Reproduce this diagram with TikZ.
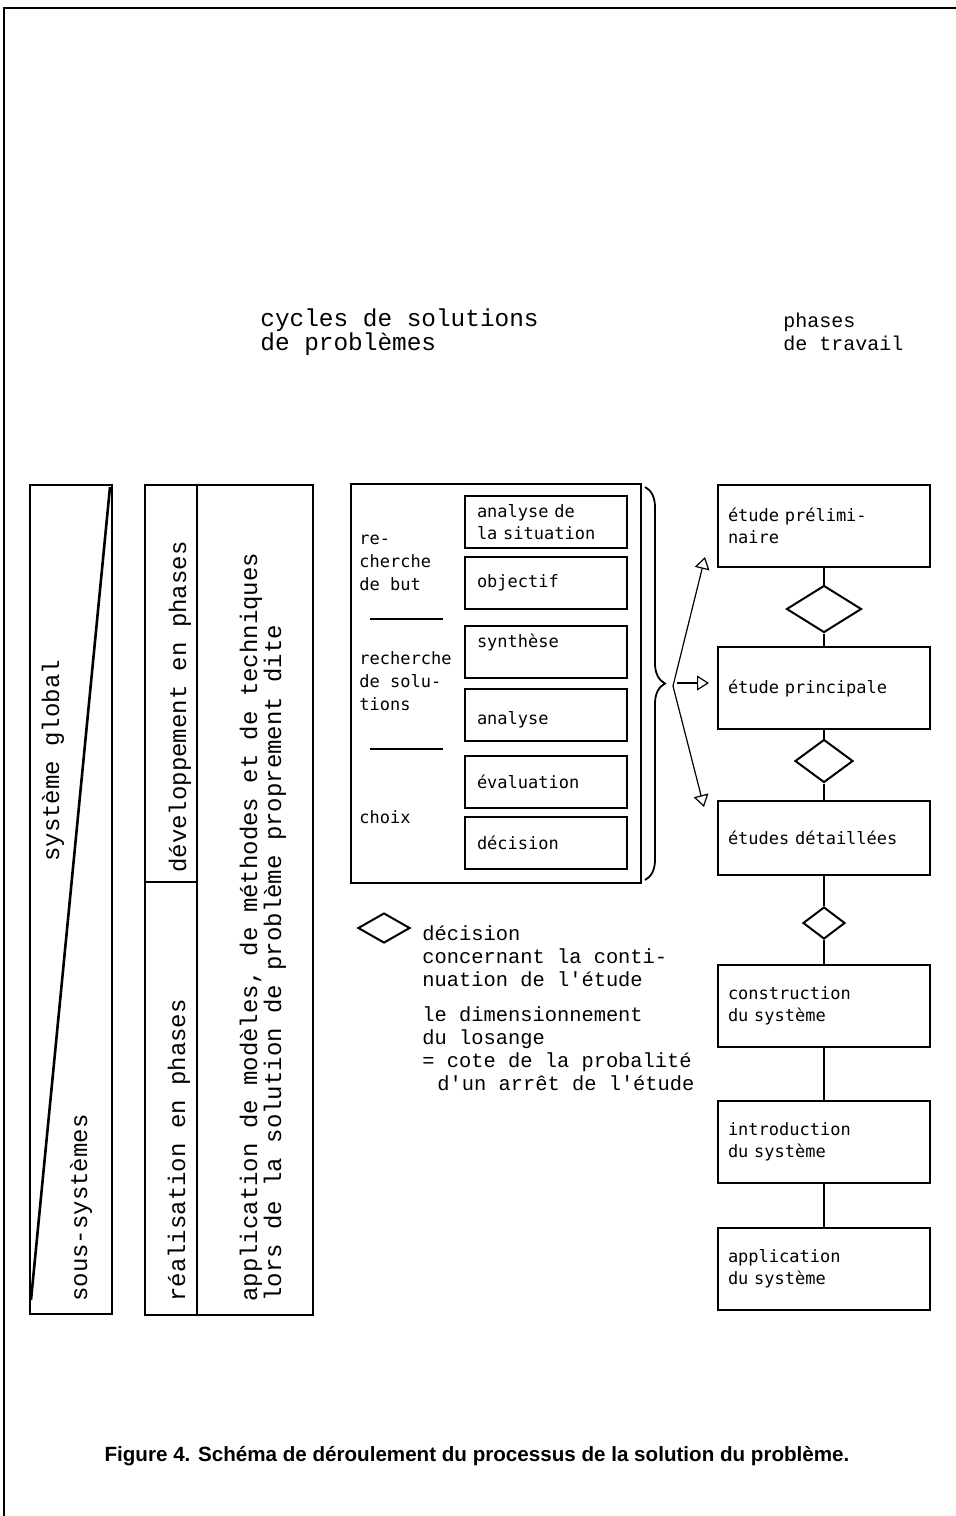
\documentclass[tikz,border=0pt]{standalone}
\usepackage{fontspec}
\usetikzlibrary{shapes.geometric, arrows.meta, decorations.pathreplacing}
\newfontfamily\typefont{Liberation Mono}
\newfontfamily\boxfont{DejaVu Sans Mono}
\newfontfamily\capfont{Liberation Sans}
\tikzset{>=stealth}
\tikzset{
    stepbox/.style={draw, line width=1.1pt, text width=69pt, inner xsep=6pt, inner ysep=0pt,
        minimum height=26pt, align=left, font=\boxfont\fontsize{8.5}{11}\selectfont},
    phasebox/.style={draw, line width=1.1pt, text width=96pt, inner xsep=5pt, inner ysep=0pt,
        minimum height=41pt, align=left, font=\boxfont\fontsize{8.5}{11}\selectfont},
    losange/.style={draw, diamond, line width=1pt, inner sep=0pt},
    rot/.style={rotate=90, anchor=west, inner sep=0pt, align=left,
        font=\typefont\fontsize{12}{12}\selectfont},
    lbl/.style={anchor=west, inner sep=0pt, align=left, font=\boxfont\fontsize{8.5}{11.5}\selectfont},
    fleche/.style={-{Triangle[open, length=6pt, width=7.5pt]}, line width=0.6pt},
}

\begin{document}
\begin{tikzpicture}[x=0.5pt, y=-0.5pt]
    \useasboundingbox (0,0) rectangle (956,1516);
    \draw[line width=1pt] (4,1516) -- (4,8) -- (956,8);

    \node[anchor=north west, inner sep=0pt, align=left, font=\typefont\fontsize{12.2}{12}\selectfont]
        (H1) at (260,308) {cycles de solutions\\de problèmes};
    \node[anchor=north west, inner sep=0pt, align=left, font=\typefont\fontsize{10}{11.5}\selectfont]
        (H2) at (783,313) {phases\\de travail};

    \draw[line width=1.2pt] (30,485) rectangle (112,1314);
    \draw[line width=1.3pt] (110,487) -- (31,1300);
    \node[rot] (G) at (53,862) {système global};
    \node[rot] (S) at (81,1302) {sous-systèmes};

    \draw[line width=1.2pt] (145,485) rectangle (313,1315);
    \draw[line width=1.2pt] (197,485) -- (197,1315);
    \draw[line width=1.2pt] (145,882) -- (197,882);
    \node[rot] (DV) at (180,873) {développement en phases};
    \node[rot] (RE) at (179,1302) {réalisation en phases};
    \node[rot] (AP) at (263,1302) {application de modèles, de méthodes et de techniques\\lors de la solution de problème proprement dite};

    \draw[line width=1.1pt] (351,484) rectangle (641,883);
    \node[stepbox] (E1) at (546,522) {analyse de\\la situation};
    \node[stepbox] (E2) at (546,583) {objectif};
    \node[stepbox] (E3) at (546,652) {synthèse\\\mbox{}};
    \node[stepbox] (E4) at (546,715) {\mbox{}\\analyse};
    \node[stepbox] (E5) at (546,782) {évaluation};
    \node[stepbox] (E6) at (546,843) {décision};
    \node[lbl] (B1) at (359,563) {re-\\cherche\\de but};
    \node[lbl] (B2) at (359,681) {recherche\\de solu-\\tions};
    \node[lbl] (B3) at (359,817) {choix};
    \draw[line width=1pt] (370,619) -- (443,619);
    \draw[line width=1pt] (370,749) -- (443,749);
    \draw[decorate, decoration={brace, amplitude=10pt}, line width=0.9pt] (645,487) -- (645,880);

    \node[phasebox] (P1) at (824,526) {étude prélimi-\\naire};
    \node[phasebox] (P2) at (824,688) {étude principale};
    \node[phasebox, minimum height=37pt] (P3) at (824,838) {études détaillées};
    \node[phasebox] (P4) at (824,1006) {construction\\du système};
    \node[phasebox] (P5) at (824,1142) {introduction\\du système};
    \node[phasebox] (P6) at (824,1269) {application\\du système};
    \node[losange, minimum width=37.5pt, minimum height=23.5pt] (D1) at (824,609) {};
    \node[losange, minimum width=29pt, minimum height=21.5pt] (D2) at (824,761) {};
    \node[losange, minimum width=21pt, minimum height=16pt] (D3) at (824,923) {};
    \foreach \a/\b in {P1/D1, D1/P2, P2/D2, D2/P3, P3/D3, D3/P4, P4/P5, P5/P6}
        \draw[line width=1.1pt] (\a) -- (\b);

    \coordinate (F) at (673,686);
    \coordinate (A1) at (705,557);
    \coordinate (A2) at (709,683);
    \coordinate (A3) at (704,807);
    \draw[fleche] (F) -- (A1);
    \draw[fleche, shorten <=2pt] (F |- A2) -- (A2);
    \draw[fleche] (F) -- (A3);

    \node[losange, minimum width=26pt, minimum height=15pt] (L) at (384,928) {};
    \node[anchor=north west, inner sep=0pt, align=left, font=\typefont\fontsize{10.2}{11.5}\selectfont]
        (T1) at (422,925) {décision\\concernant la conti-\\nuation de l'étude};
    \node[anchor=north west, inner sep=0pt, align=left, font=\typefont\fontsize{10.2}{11.5}\selectfont]
        (T2) at (422,1006) {le dimensionnement\\du losange\\= cote de la probalité\\\hspace*{7.5pt}d'un arrêt de l'étude};

    \node[font=\capfont\bfseries\fontsize{10.3}{12}\selectfont] (C) at (477,1456)
        {Figure 4. Schéma de déroulement du processus de la solution du problème.};
\end{tikzpicture}
\end{document}
